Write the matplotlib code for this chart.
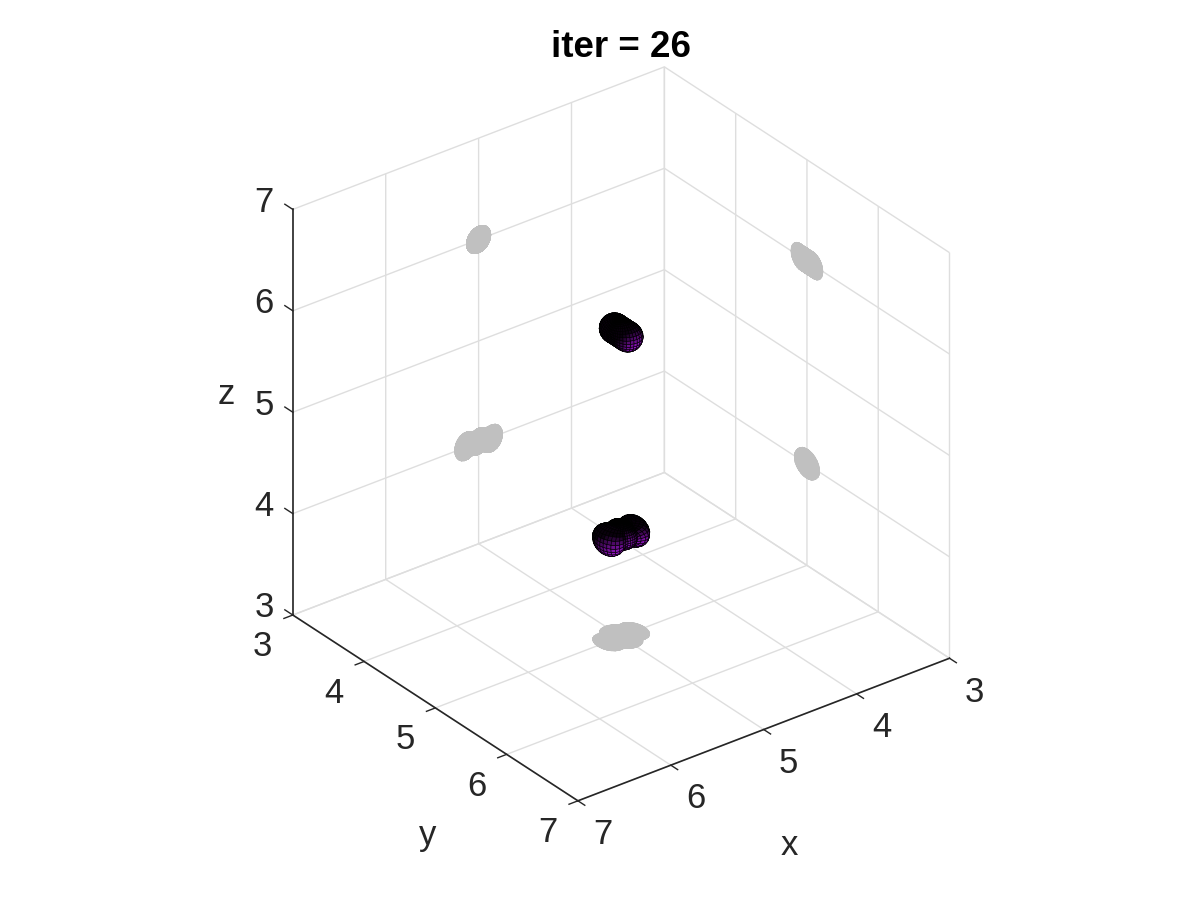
import numpy as np
import matplotlib
matplotlib.use('Agg')
import matplotlib.pyplot as plt
from mpl_toolkits.mplot3d import proj3d

plt.rcParams['font.family'] = ['Liberation Sans', 'DejaVu Sans']

ticks = [3, 4, 5, 6, 7]
title = 'iter = 26'

# blobs: each lobe is centre x, y, z and radii
upper_lobes = [(5.00, 4.905, 6.00, 0.130, 0.130, 0.130),
               (5.00, 5.095, 6.00, 0.130, 0.130, 0.130),
               (5.00, 5.000, 6.00, 0.130, 0.120, 0.130)]
lower_lobes = [(5.14, 5.01, 4.01, 0.120, 0.170, 0.140),
               (4.86, 4.99, 3.99, 0.120, 0.170, 0.135),
               (5.00, 5.00, 4.01, 0.130, 0.165, 0.130)]

theta = np.linspace(1e-3, np.pi - 1e-3, 23)
phi = np.linspace(0, 2 * np.pi, 45)
PHI, THETA = np.meshgrid(phi, theta)


def blob_surface(lobes):
    # furthest hit along each ray from the blob centre, smoothly joined
    lobes = np.array(lobes)
    c0 = lobes[:, :3].mean(axis=0)
    dx = np.sin(THETA) * np.cos(PHI)
    dy = np.sin(THETA) * np.sin(PHI)
    dz = np.cos(THETA)
    hits = []
    for cx, cy, cz, rx, ry, rz in lobes:
        ox, oy, oz = (c0[0] - cx) / rx, (c0[1] - cy) / ry, (c0[2] - cz) / rz
        ax_, ay_, az_ = dx / rx, dy / ry, dz / rz
        a = ax_ ** 2 + ay_ ** 2 + az_ ** 2
        b = ox * ax_ + oy * ay_ + oz * az_
        c = ox ** 2 + oy ** 2 + oz ** 2 - 1
        disc = np.clip(b ** 2 - a * c, 0, None)
        hits.append(np.clip((-b + np.sqrt(disc)) / a, 1e-3, None))
    r = np.sum(np.array(hits) ** 8, axis=0) ** (1 / 8)
    return c0[0] + r * dx, c0[1] + r * dy, c0[2] + r * dz


def blob_colors(X, Y, Z, light, gamma):
    # face colours from the surface normals
    p = np.stack([X, Y, Z], axis=-1)
    du = np.gradient(p, axis=0)
    dv = np.gradient(p, axis=1)
    n = np.cross(dv, du)
    n = n / np.clip(np.linalg.norm(n, axis=-1, keepdims=True), 1e-9, None)
    centre = p.reshape(-1, 3).mean(axis=0)
    flip = np.sum(n * (p - centre), axis=-1) < 0
    n[flip] = -n[flip]
    light = np.array(light) / np.linalg.norm(light)
    shade = 0.05 + 0.75 * np.clip(np.sum(n * light, axis=-1), 0, 1) ** gamma
    cols = np.zeros(THETA.shape + (4,))
    cols[..., 0] = 0.75 * shade
    cols[..., 1] = 0.10 * shade
    cols[..., 2] = 1.00 * shade
    cols[..., 3] = 1
    return cols


fig = plt.figure(figsize=(12, 9), dpi=100)
ax = fig.add_axes([9 / 1200, 4 / 900, 1, 1], projection='3d', proj_type='ortho',
                  computed_zorder=False)
ax.set_box_aspect((1, 1, 1), zoom=0.875)
ax.view_init(elev=30, azim=52.5)
ax.set_xlim(3, 7, view_margin=0)
ax.set_ylim(3, 7, view_margin=0)
ax.set_zlim(3, 7, view_margin=0)
ax.set_xticks(ticks)
ax.set_yticks(ticks)
ax.set_zticks(ticks)
ax.set_xticklabels([])
ax.set_yticklabels([])
ax.set_zticklabels([])

# z ticks point along y as in the reference
ax.zaxis._AXINFO['z']['tickdir'] = 1

for axis in (ax.xaxis, ax.yaxis, ax.zaxis):
    axis.set_pane_color((1, 1, 1, 0))
    axis.pane.set_edgecolor('#d9d9d9')
    axis.line.set_color('#262626')
    axis.line.set_linewidth(1.2)
    axis._axinfo['grid'].update(color='#dedede', linewidth=1.0)
    axis._axinfo['tick'].update(inward_factor=0.3, outward_factor=0.0, linewidth={True: 1.0, False: 0.5})
    axis.set_tick_params(color='#262626')
ax.zaxis._axinfo['tick'].update(inward_factor=0.0, outward_factor=0.35)


def label_at(x, y, z, s):
    # project the 3d spot first so the text has a real 2d position
    px, py, _ = proj3d.proj_transform(x, y, z, ax.get_proj())
    ax.text2D(px, py, s, transform=ax.transData, fontsize=25, color='#262626',
              ha='center', va='center')


# tick labels and axis labels sit off the box, offsets are in data units
for t in ticks:
    label_at(t, 7.35, 2.827, str(t))
    label_at(7.323, t, 2.80, str(t))
    label_at(7.31, 3, t + 0.18, str(t))
label_at(5, 7.365, 2.025, 'x')
label_at(7.08, 5, 1.77, 'y')
label_at(7.72, 3, 5.43, 'z')
ax.set_title(title, fontsize=26.5, fontweight='bold', x=0.513, y=1.0035)

for lobes in (upper_lobes, lower_lobes):
    X, Y, Z = blob_surface(lobes)
    for sx, sy, sz in ((X, Y, np.full_like(Z, 3)), (X, np.full_like(Y, 3), Z), (np.full_like(X, 3), Y, Z)):
        ax.plot_surface(sx, sy, sz, color='#c0c0c0', shade=False, rstride=1, cstride=1,
                        linewidth=0.3, edgecolor='#c0c0c0', zorder=2)

X, Y, Z = blob_surface(upper_lobes)
ax.plot_surface(X, Y, Z, facecolors=blob_colors(X, Y, Z, (0.05, 0.85, -0.45), 1.2), shade=False,
                rstride=1, cstride=1, edgecolor='black', linewidth=0.4, zorder=3)
X, Y, Z = blob_surface(lower_lobes)
ax.plot_surface(X, Y, Z, facecolors=blob_colors(X, Y, Z, (0.35, 0.65, -0.5), 0.9), shade=False,
                rstride=1, cstride=1, edgecolor='black', linewidth=0.4, zorder=3)

fig.savefig('out.png', dpi=100)
